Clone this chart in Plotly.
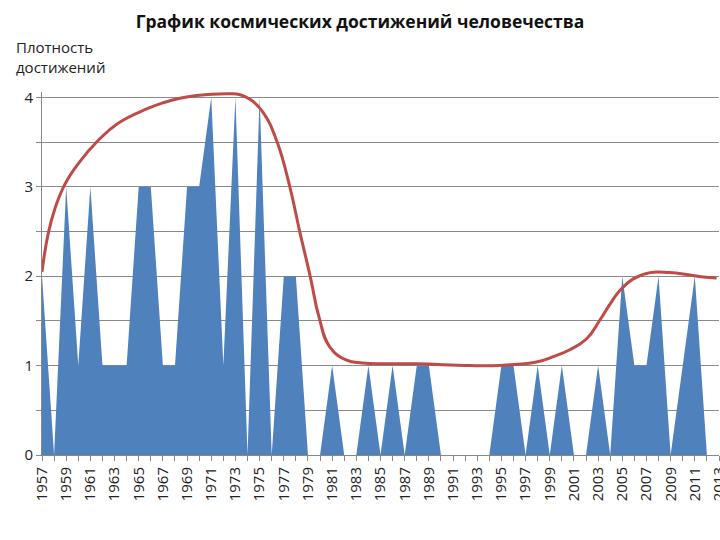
import plotly.graph_objects as go

years = list(range(1957, 2013))
density = [2, 0, 3, 1, 3, 1, 1, 1, 3, 3, 1, 1, 3, 3, 4, 1, 4, 0, 4, 0,
           2, 2, 0, 0, 1, 0, 0, 1, 0, 1, 0, 1, 1, 0, 0, 0, 0, 0, 1, 1,
           0, 1, 0, 1, 0, 0, 1, 0, 2, 1, 1, 2, 0, 1, 2, 0]

trend_x = [1957.0, 1957.52, 1958.08, 1958.9, 1960.0, 1961.66, 1963.3, 1965.66,
           1967.03, 1968.4, 1969.8, 1972.3, 1973.4, 1974.3, 1975.3, 1976.4,
           1977.5, 1978.3, 1979.2, 1979.9, 1980.8, 1982.2,
           1983.5, 1985.2, 1988.0, 1992.4, 1995.15, 1997.9, 1999.3, 2000.7,
           2002.05, 2003.15, 2004.0, 2004.8, 2005.9, 2007.3, 2008.9, 2010.3,
           2011.7, 2012.8]
trend_y = [2.05, 2.48, 2.76, 3.03, 3.26, 3.52, 3.71, 3.87,
           3.94, 3.99, 4.02, 4.04, 4.03, 3.97, 3.83, 3.52,
           3.0, 2.51, 1.99, 1.55, 1.21, 1.06,
           1.03, 1.02, 1.02, 1.0, 1.005, 1.04, 1.1, 1.18,
           1.30, 1.51, 1.69, 1.84, 1.97, 2.04, 2.04, 2.02,
           1.99, 1.98]

tick_years = list(range(1957, 2014, 2))

title_text = "График космических достижений человечества"
ylabel_text = "Плотность<br>достижений"

fig = go.Figure()
fig.add_trace(go.Scatter(x=years, y=density, mode="lines", fill="tozeroy",
                         line=dict(width=0, color="#4F81BD"),
                         fillcolor="#4F81BD", showlegend=False))
fig.add_trace(go.Scatter(x=trend_x, y=trend_y, mode="lines",
                         line=dict(color="#BE4B48", width=3, shape="spline", smoothing=1.3),
                         showlegend=False))

fig.update_layout(
    width=720, height=540,
    margin=dict(l=42, r=1, t=92, b=85, autoexpand=False),
    paper_bgcolor="white", plot_bgcolor="white",
    font=dict(family="Open Sans, Liberation Sans, sans-serif", color="#222"),
    title=dict(text="<b>" + title_text + "</b>", x=0.5, xanchor="center",
               y=1 - 22 / 540, yanchor="middle",
               font=dict(size=17.5, color="#111")),
    annotations=[dict(text=ylabel_text, x=-28 / 677, y=1 + (92 - 57) / 363,
                      xref="paper", yref="paper", showarrow=False, align="left",
                      xanchor="left", yanchor="middle",
                      font=dict(size=15, color="#222"))],
)

fig.update_xaxes(range=[1957, 2013], tickvals=tick_years, ticktext=[str(y) for y in tick_years],
                 tickangle=-90, tickfont=dict(size=15, color="#222"),
                 ticklabeloverflow="allow", automargin=False,
                 showline=True, linecolor="#888", linewidth=1,
                 ticks="outside", ticklen=5, tickcolor="#888",
                 minor=dict(dtick=1, tick0=1957, ticks="outside", ticklen=5, tickcolor="#888"),
                 showgrid=False, zeroline=False)
fig.update_yaxes(range=[0, 4.06], tickvals=[0, 1, 2, 3, 4], tickfont=dict(size=15, color="#222"),
                 automargin=False,
                 showline=True, linecolor="#888", linewidth=1,
                 ticks="outside", ticklen=5, tickcolor="#888",
                 showgrid=True, gridcolor="#8a8a8a", gridwidth=1,
                 minor=dict(dtick=0.5, tick0=0, showgrid=True, gridcolor="#8a8a8a", gridwidth=1,
                            ticks="outside", ticklen=5, tickcolor="#888"),
                 zeroline=False)

fig.write_html("out.html")
